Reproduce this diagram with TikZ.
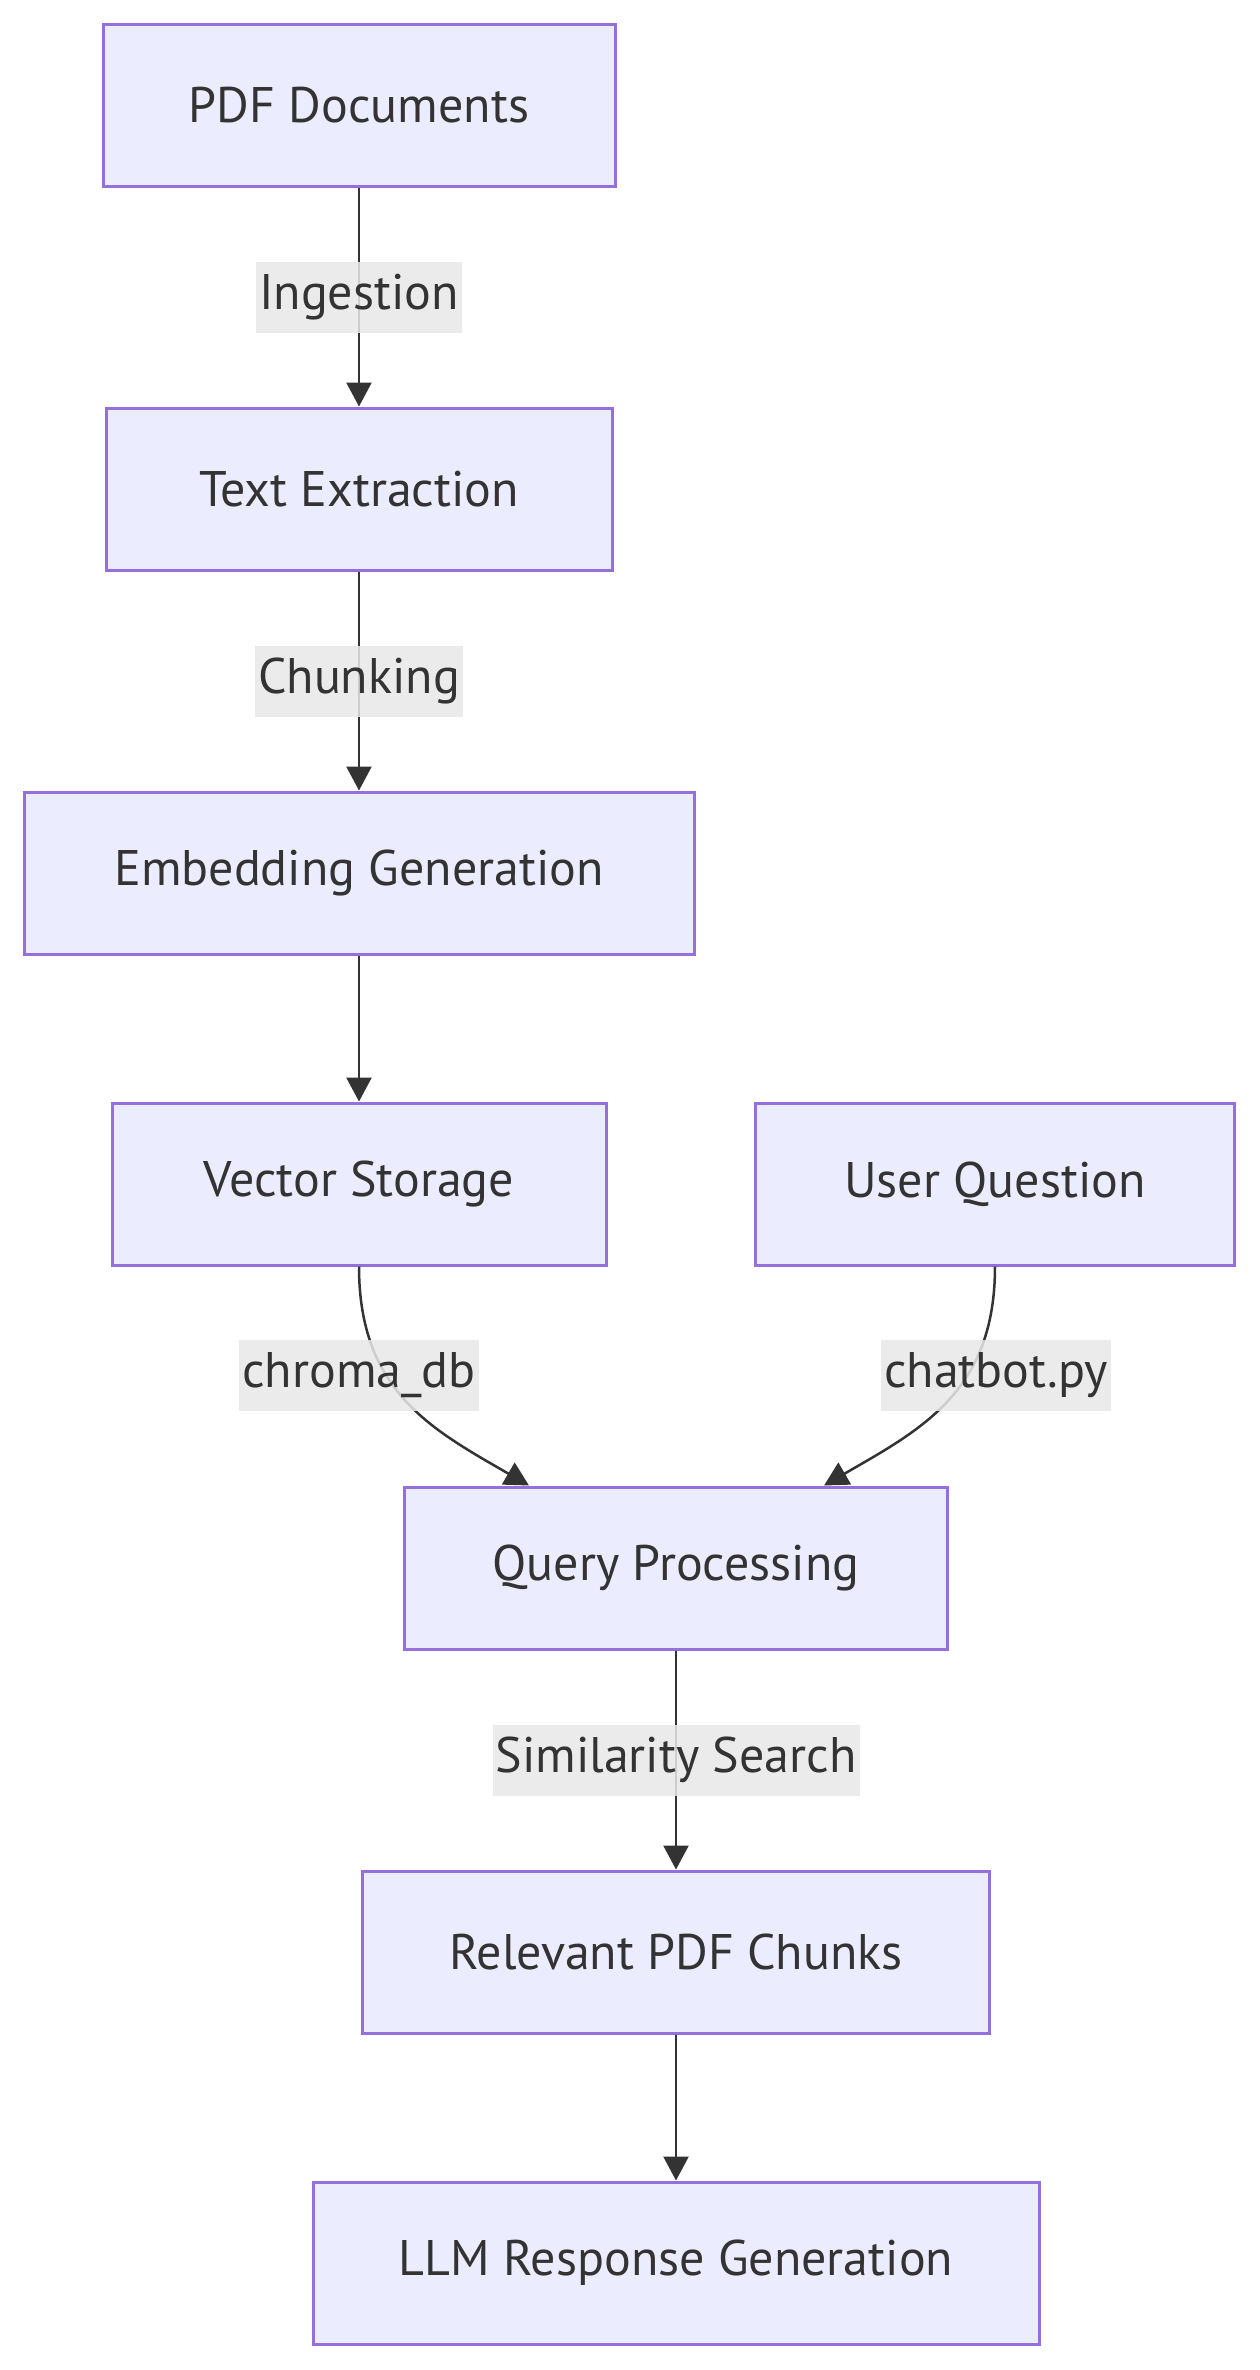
\documentclass[tikz,border=0pt]{standalone}
\usepackage{xcolor}
\usepackage{fontspec}
\setmainfont{PT Sans}
\usepackage{tikz}
\usetikzlibrary{arrows.meta}

\definecolor{boxfill}{HTML}{ECECFF}
\definecolor{boxline}{HTML}{9370DB}
\definecolor{inkgray}{HTML}{333333}
\definecolor{labelbg}{HTML}{E8E8E8}

\tikzset{
  stepbox/.style={rectangle, draw=boxline, fill=boxfill, line width=3pt,
    minimum height=162pt, text=inkgray, font=\fontsize{50}{60}\selectfont},
  edgelabel/.style={rectangle, fill=labelbg, fill opacity=0.85, text opacity=1,
    text=inkgray, minimum height=71pt, inner xsep=3pt, font=\fontsize{50}{60}\selectfont},
  flow/.style={-{Triangle[length=24pt,width=25pt]}, draw=inkgray, line width=2.5pt},
}

\begin{document}
\begin{tikzpicture}[x=1pt, y=-1pt]
\useasboundingbox (0,0) rectangle (1259,2370);
\node [stepbox, minimum width=512pt] (pdf) at (359, 105) {PDF Documents};
\node [stepbox, minimum width=506pt] (extract) at (359, 489) {Text Extraction};
\node [stepbox, minimum width=670pt] (embed) at (359, 873) {Embedding Generation};
\node [stepbox, minimum width=494pt] (store) at (359, 1184) {Vector Storage};
\node [stepbox, minimum width=479pt] (question) at (995, 1184) {User Question};
\node [stepbox, minimum width=543pt] (query) at (676, 1568) {Query Processing};
\node [stepbox, minimum width=627pt] (chunks) at (676, 1952) {Relevant PDF Chunks};
\node [stepbox, minimum width=726pt] (answer) at (676, 2263) {LLM Response Generation};
\draw [flow] (pdf) -- node [edgelabel] (ingest) {Ingestion} (extract);
\draw [flow] (extract) -- node [edgelabel] (chunking) {Chunking} (embed);
\draw [flow] (embed) -- (store);
\draw [flow] (store.south) .. controls +(0,125) and +(-97,-56) .. ([xshift=-147pt]query.north);
\draw [flow] (question.south) .. controls +(0,125) and +(97,-56) .. ([xshift=148pt]query.north);
\node [edgelabel] (chroma) at (359, 1375) {chroma\_db};
\node [edgelabel] (bot) at (996, 1375) {chatbot.py};
\draw [flow] (query) -- node [edgelabel] (search) {Similarity Search} (chunks);
\draw [flow] (chunks) -- (answer);
\end{tikzpicture}
\end{document}
